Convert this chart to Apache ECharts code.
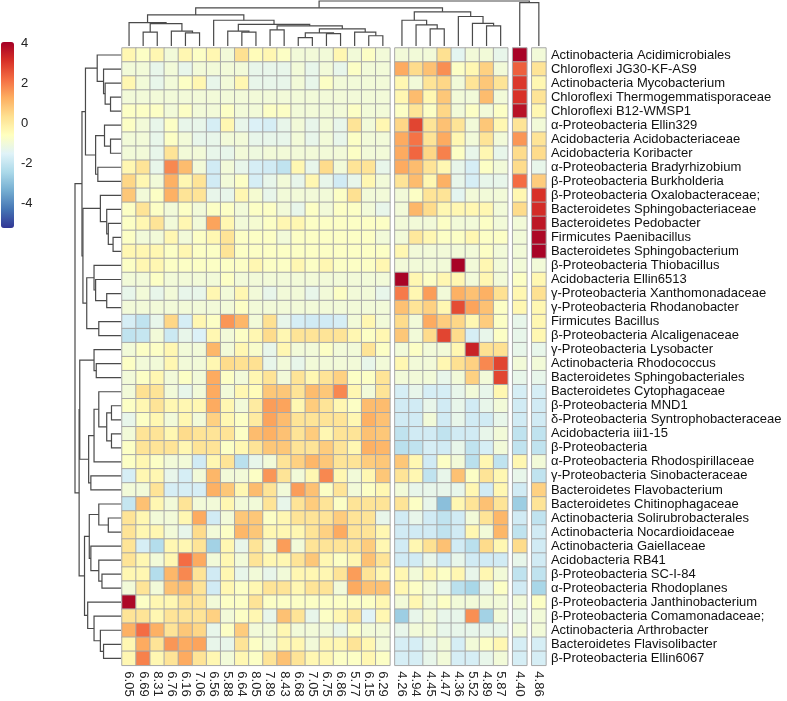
<!DOCTYPE html>
<html>
<head>
<meta charset="utf-8">
<script src="https://cdn.jsdelivr.net/npm/echarts@6/dist/echarts.min.js"></script>
<style>
  html, body { margin: 0; padding: 0; background: #fff; }
  #main { width: 787px; height: 701px; }
</style>
</head>
<body>
<div id="main"></div>
<script>
// taxa (rows, top to bottom)
const rowNames = [
  'Actinobacteria Acidimicrobiales', 'Chloroflexi JG30-KF-AS9', 'Actinobacteria Mycobacterium',
  'Chloroflexi Thermogemmatisporaceae', 'Chloroflexi B12-WMSP1', 'α-Proteobacteria Ellin329',
  'Acidobacteria Acidobacteriaceae', 'Acidobacteria Koribacter', 'α-Proteobacteria Bradyrhizobium',
  'β-Proteobacteria Burkholderia', 'β-Proteobacteria Oxalobacteraceae;', 'Bacteroidetes Sphingobacteriaceae',
  'Bacteroidetes Pedobacter', 'Firmicutes Paenibacillus', 'Bacteroidetes Sphingobacterium',
  'β-Proteobacteria Thiobacillus', 'Acidobacteria Ellin6513', 'γ-Proteobacteria Xanthomonadaceae',
  'γ-Proteobacteria Rhodanobacter', 'Firmicutes Bacillus', 'β-Proteobacteria Alcaligenaceae',
  'γ-Proteobacteria Lysobacter', 'Actinobacteria Rhodococcus', 'Bacteroidetes Sphingobacteriales',
  'Bacteroidetes Cytophagaceae', 'β-Proteobacteria MND1', 'δ-Proteobacteria Syntrophobacteraceae',
  'Acidobacteria iii1-15', 'β-Proteobacteria', 'α-Proteobacteria Rhodospirillaceae',
  'γ-Proteobacteria Sinobacteraceae', 'Bacteroidetes Flavobacterium', 'Bacteroidetes Chitinophagaceae',
  'Actinobacteria Solirubrobacterales', 'Actinobacteria Nocardioidaceae', 'Actinobacteria Gaiellaceae',
  'Acidobacteria RB41', 'β-Proteobacteria SC-I-84', 'α-Proteobacteria Rhodoplanes',
  'β-Proteobacteria Janthinobacterium', 'β-Proteobacteria Comamonadaceae;', 'Actinobacteria Arthrobacter',
  'Bacteroidetes Flavisolibacter', 'β-Proteobacteria Ellin6067'
];

// sample labels (pH), one array per column block
const cols1 = ['6.05','6.69','8.31','6.76','6.16','7.06','6.56','5.88','6.64','8.05','7.89','8.43','6.68','7.05','6.75','6.86','5.77','6.15','6.29'];
const cols2 = ['4.26','4.94','4.45','4.47','4.36','5.52','4.89','5.87'];
const cols3 = ['4.40'];
const cols4 = ['4.86'];

// scaled abundance, block 1 (19 columns)
const block1 = [
  [-0.35,-0.7,-0.35,-1.0,-0.35,-0.7,-0.35,-1.0,0.3,-0.5,-0.35,-0.7,-1.0,-1.0,-1.0,-0.35,-1.0,-0.7,-1.0],
  [-1.0,-1.0,-1.3,-1.0,-1.3,-1.0,-1.0,-1.0,-1.0,-1.3,-1.3,-1.3,-1.0,-1.3,-1.0,-1.3,-0.7,-1.0,-1.0],
  [-0.35,-1.0,-1.3,-1.0,-0.7,-0.35,-1.3,-1.0,-0.35,-1.3,-1.3,-1.3,-1.0,-1.3,-0.7,-1.0,-1.0,-1.0,-1.0],
  [-1.0,-1.0,-1.0,-1.0,-1.0,-1.0,-1.0,-1.0,-1.0,-1.0,-1.0,-1.0,-1.0,-1.0,-1.0,-1.0,-1.0,-1.0,-1.0],
  [-0.7,-0.7,-0.7,-1.0,-0.7,-1.0,-1.0,-0.7,-1.0,-1.0,-0.7,-0.7,-1.0,-1.0,-1.0,-1.0,-0.7,-1.0,-1.0],
  [-0.7,-1.0,-1.3,-0.7,-1.3,-1.3,-1.7,-0.35,-1.3,-1.6,-1.7,-1.3,-1.0,-1.3,-1.0,-1.3,0.2,-1.0,-0.35],
  [-1.0,-1.0,-1.3,-0.7,-1.0,-1.3,-1.3,-1.0,-1.0,-1.3,-1.3,-1.3,-1.0,-1.3,-1.0,-1.3,-0.7,-1.0,-1.0],
  [-1.0,-1.0,-1.3,0.2,-1.0,-1.0,-1.3,-1.3,-1.0,-1.1,-1.0,-1.0,-1.0,-1.0,-1.0,-1.0,-0.7,-1.0,-1.0],
  [-0.35,0.2,-1.3,1.8,1.0,-1.0,-1.8,-1.0,-1.3,-1.7,-1.8,-2.1,-0.35,-1.3,0.4,-1.0,0.2,0.2,-1.3],
  [0.5,-0.35,-1.0,1.2,-0.35,0.2,-1.8,-1.0,-0.7,-1.7,-1.3,-1.0,-1.3,-0.35,-1.3,-1.8,-1.3,-0.35,-1.0],
  [0.8,-1.0,-0.7,1.2,0.2,0.2,-1.3,-1.3,-0.35,-0.9,-1.3,-1.0,-1.0,-1.0,-1.0,-0.7,0.3,-1.0,-1.0],
  [-0.7,0.2,-0.7,-1.0,-0.7,-1.0,-0.7,-0.7,-1.0,-0.7,-0.7,-1.0,-1.3,-0.7,-1.0,-0.7,-0.7,-1.0,-1.3],
  [-0.7,-0.35,0.2,-1.0,-0.35,-1.0,1.4,-0.35,-1.0,-0.9,-0.7,-0.35,-0.35,-0.7,-0.7,-0.7,-0.7,-0.7,-0.7],
  [-0.7,-1.0,-1.0,-0.35,-1.0,-0.7,-0.35,0.2,-0.7,-0.7,-0.7,-1.0,-0.7,-0.7,-0.7,-0.7,-0.7,-0.7,-1.0],
  [-0.35,-0.35,-0.35,-0.7,-0.35,-0.7,-0.7,0.2,-0.7,-0.7,-0.7,-0.7,-0.7,-0.7,-0.7,-0.7,-0.7,-0.7,-0.7],
  [-0.7,-0.35,-0.35,-0.7,-0.7,-0.7,-0.7,-0.7,-0.7,-0.35,-0.7,-0.7,-0.35,-0.7,-0.35,-0.7,-0.7,-0.7,-0.35],
  [-1.0,-1.0,-0.7,-1.0,-1.0,-1.0,-1.0,-0.7,-1.0,-1.0,-1.0,-1.0,-1.0,-1.0,-1.0,-1.0,-1.0,-1.0,-1.0],
  [-1.3,-1.0,-1.3,-1.0,-1.3,-1.3,-0.35,-1.0,-0.35,-1.0,-1.3,-1.0,-1.0,-1.3,-1.0,-0.7,-1.0,-1.0,-1.3],
  [-1.0,-1.0,-1.0,-1.0,-1.0,-1.0,-1.0,-1.0,-0.7,-1.0,-1.0,-1.0,-1.0,-1.0,-1.0,-1.0,-1.0,-1.0,-1.0],
  [-1.7,-2.1,-1.3,0.5,-1.7,-0.35,-0.7,1.6,1.1,-1.0,0.3,-1.3,-1.7,-1.8,-1.8,-1.7,-1.0,-0.35,-1.0],
  [-2.1,-2.0,-1.0,-1.9,-1.3,-1.6,-0.35,-1.0,-0.7,-0.35,0.4,-0.35,0.2,0.2,0.2,0.2,-0.35,-0.7,-0.35],
  [-1.0,-0.7,-0.7,-0.35,-1.0,-1.0,1.1,-1.0,-0.35,-0.8,-1.3,-0.35,-1.0,-1.0,-0.7,-1.0,-1.0,0.2,-0.7],
  [-0.7,-1.0,-1.0,-0.35,-1.0,-1.0,-0.35,0.4,0.3,0.3,-1.3,-1.0,-1.3,-1.0,-1.0,-1.0,-1.0,-1.3,-1.0],
  [-1.0,-0.7,-0.35,-1.0,-0.7,-1.0,1.3,-0.7,-1.0,-0.35,0.2,-1.0,0.2,-0.35,0.2,0.6,-0.7,-0.7,0.2],
  [-1.0,0.3,0.2,-1.0,-1.3,-1.0,1.3,-1.0,-0.35,-0.5,0.8,0.8,0.2,1.0,0.8,1.8,-0.35,-1.0,0.2],
  [-0.7,-0.35,0.2,-0.35,-0.35,-0.35,1.3,-0.35,-1.0,0.0,1.5,1.4,-0.35,0.7,0.2,-0.35,-0.7,1.0,1.0],
  [-1.3,-0.7,-0.35,-1.0,-0.35,-1.0,0.6,-0.35,-0.7,0.0,1.4,1.0,0.2,0.2,0.2,0.2,-0.35,1.2,0.9],
  [-1.0,0.2,0.2,-0.35,0.4,0.2,0.2,0.2,-0.7,1.0,1.2,0.9,0.2,0.7,-0.35,0.2,0.2,0.9,0.8],
  [-0.7,0.2,0.2,0.2,-0.35,0.2,0.2,-0.7,-0.35,0.2,0.8,0.8,0.2,0.2,0.7,0.2,-0.35,1.2,1.1],
  [-0.7,-0.35,-0.7,-1.0,-1.0,-1.8,-0.35,0.2,-2.2,-1.3,-1.0,0.2,0.6,1.1,0.8,0.2,0.2,0.7,0.8],
  [-1.7,-0.35,-0.35,-1.3,-1.7,-1.0,1.1,-1.0,-1.0,-0.7,1.6,0.2,-1.0,-0.35,1.8,-0.35,-1.0,-0.35,0.8],
  [-1.0,-1.0,0.2,-1.7,-1.7,-1.7,1.2,0.8,-0.35,1.0,0.2,-1.0,1.5,0.9,-0.7,0.2,-1.0,-0.7,-0.35],
  [-2.0,0.9,-0.35,-1.0,0.2,-1.0,-1.0,-0.35,-1.0,-1.0,0.2,-1.3,0.2,0.7,0.2,-0.7,0.2,0.2,0.2],
  [0.2,-0.35,-1.0,-1.0,-0.35,1.3,-1.8,-1.0,0.8,0.8,-0.7,-0.35,0.2,0.2,0.2,0.7,0.2,0.2,-1.3],
  [0.2,-0.35,-0.35,-1.0,-1.3,0.4,-1.0,-0.7,1.1,0.8,-0.35,-0.35,-0.35,0.2,0.6,1.3,0.2,0.2,-0.35],
  [0.2,-1.7,-2.3,-0.35,-0.35,0.2,-2.6,-0.35,-1.3,0.2,-1.0,1.5,-1.0,0.2,0.2,0.2,0.2,0.7,-0.35],
  [0.2,-0.35,-1.0,-0.35,2.2,1.3,-1.0,-0.35,-1.0,0.2,-0.35,-0.35,0.2,0.8,-0.35,-0.7,-0.35,0.9,0.2],
  [-0.35,-0.35,-2.3,1.1,1.8,0.2,-1.8,-0.35,-1.3,-1.0,-1.3,-1.0,-0.35,-0.35,-0.35,0.2,1.5,0.2,-0.35],
  [-1.0,0.2,-1.0,0.9,1.0,0.2,-1.8,-0.35,-0.7,-0.35,0.2,0.2,-0.35,0.2,0.2,-1.0,1.3,0.9,0.9],
  [3.9,-0.7,-0.35,-0.35,0.2,0.2,-1.0,-0.7,-0.7,0.2,-0.7,-0.7,-0.7,-0.7,-0.7,-0.7,-0.7,-0.7,-0.35],
  [0.2,0.2,-0.35,0.2,0.2,0.2,0.6,-1.0,-0.7,-0.35,-1.3,0.9,0.2,-1.3,-0.7,-0.35,0.2,-1.5,-0.35],
  [1.2,2.2,1.2,0.2,0.8,0.5,-1.3,-0.7,0.7,-1.0,-1.0,-0.35,-1.0,-1.0,-1.0,-1.3,-0.7,-1.0,-1.0],
  [-0.35,1.3,0.2,1.6,1.3,1.4,-1.3,-1.3,0.2,-0.7,-1.0,-0.35,-0.35,-1.0,-0.35,-0.35,0.2,-0.35,-1.0],
  [-0.35,1.9,-0.35,0.2,1.3,0.2,-0.35,-1.0,-0.35,-0.7,0.2,0.9,0.2,-0.35,-0.35,-0.7,-0.7,-0.35,-0.7]
];

// block 2 (8 columns)
const block2 = [
  [-1.0,-1.0,-1.0,0.3,-1.4,-1.0,-1.0,-1.3],
  [1.3,0.4,0.9,1.7,-0.7,-0.35,0.6,-1.0],
  [-0.35,-1.0,0.2,0.5,-1.0,0.2,0.8,0.2],
  [-0.35,1.0,-0.35,0.8,-1.0,-1.0,1.0,-1.0],
  [-0.7,0.2,-0.7,0.5,-1.0,-0.7,-1.0,-0.7],
  [0.5,2.8,0.2,0.9,0.2,-1.0,0.8,-0.35],
  [1.3,2.1,0.2,1.3,-0.35,-1.0,0.2,-1.0],
  [1.3,2.3,0.5,1.9,-0.7,-1.3,-0.35,-1.3],
  [1.3,1.0,0.2,-0.35,-1.3,-1.7,-0.7,-1.0],
  [0.2,1.0,-0.35,1.2,-1.3,-1.7,-1.3,-1.3],
  [-1.0,-0.7,0.2,0.2,-1.4,-1.0,-1.0,-1.0],
  [-1.0,1.1,0.4,-0.35,-0.35,-0.35,-0.35,-1.0],
  [-1.0,-1.0,-1.0,-0.7,-1.0,-1.0,-0.7,-1.0],
  [-1.0,0.1,-0.35,-0.7,-0.7,-0.35,-0.7,-0.7],
  [-0.35,-1.0,-1.0,-1.0,-1.0,-1.0,-0.7,-1.0],
  [-1.0,-1.0,-1.0,-1.0,4.0,-1.0,-0.35,-1.0],
  [4.0,-0.35,-0.7,-0.35,-0.35,-1.0,-0.35,-1.0],
  [2.0,-0.35,1.5,-1.0,1.2,0.9,1.2,0.3],
  [0.9,0.2,0.6,-0.35,2.7,1.4,0.9,-0.7],
  [0.4,-1.0,1.3,0.7,0.5,-0.35,0.7,-0.7],
  [0.8,-1.0,0.4,2.8,0.4,-1.7,-1.3,-0.7],
  [-1.0,-0.7,-1.0,-1.0,-0.35,3.4,0.3,0.3],
  [-0.35,-1.0,-1.0,-0.35,0.3,0.6,1.8,2.8],
  [-1.0,-1.0,-1.0,-1.3,-1.0,0.6,-1.0,2.8],
  [-1.7,-1.3,-1.7,-1.7,-1.3,-1.0,-1.3,-0.35],
  [-1.8,-1.8,-1.3,-1.8,-1.3,-1.8,-1.3,-1.0],
  [-1.8,-1.8,-1.0,-1.8,-1.3,-1.8,-1.8,-1.3],
  [-2.1,-1.8,-1.8,-2.1,-1.8,-1.8,-1.3,-1.0],
  [-2.2,-2.1,-1.7,-1.8,-1.3,-2.1,-1.7,-1.0],
  [0.8,-0.35,-1.8,-0.7,-1.0,-2.2,-0.35,-2.1],
  [0.2,-0.35,-2.1,-1.3,0.9,-0.7,0.2,-0.35],
  [-1.0,-1.3,-1.3,-1.3,-1.3,-0.35,-1.8,-0.35],
  [0.2,-0.7,-1.3,-3.0,-0.35,0.2,0.9,0.2],
  [-1.8,-1.3,-1.8,-2.1,-1.8,-1.0,0.2,1.1],
  [-1.8,-1.8,-1.8,-2.1,-1.8,-0.35,-1.0,1.1],
  [-1.8,-0.35,0.3,0.9,-1.8,-2.2,0.4,-0.35],
  [-1.8,-1.8,-1.3,-1.8,-1.3,-1.8,-1.8,-1.8],
  [-0.35,-1.0,-0.35,-0.7,-0.35,-1.3,-0.35,-1.0],
  [-0.35,-0.7,-1.0,-1.3,-2.2,-2.5,-1.3,-0.7],
  [-1.0,-0.35,-1.0,-0.7,-1.0,-1.0,-1.0,-1.0],
  [-2.7,-1.3,-1.0,-1.3,-1.3,1.7,-2.6,-1.0],
  [-1.3,-1.0,-1.0,-1.3,-1.3,-1.3,-1.3,-1.3],
  [-1.7,-1.7,-1.3,-1.0,-1.7,-1.0,-0.7,-0.35],
  [-1.7,-1.7,-1.3,-1.0,-1.7,-1.7,-1.3,-1.0]
];

// single-column blocks
const col440 = [4.0,2.4,3.0,3.1,3.7,0.2,1.6,0.4,0.4,2.2,-0.35,0.4,-1.0,-1.0,-1.0,-1.0,-0.7,-0.35,-0.35,-1.3,-1.3,-1.3,
  -1.0,-1.3,-1.7,-1.8,-1.8,-2.1,-2.1,-0.35,-1.3,-1.8,-2.7,-1.8,-2.1,0.4,-1.3,-2.1,-1.8,-1.0,-1.3,-1.0,-1.7,-1.7];
const col486 = [-1.0,0.2,-0.35,0.2,-0.35,-1.0,0.2,0.4,-1.3,0.7,3.1,3.2,3.6,3.9,4.0,-1.0,-0.35,0.3,-0.35,-0.35,-0.35,-1.3,
  -1.0,-1.3,-1.7,-1.8,-1.8,-2.1,-2.1,-1.0,-2.1,0.6,0.2,-2.1,-1.8,-1.8,-1.8,-2.1,-2.5,-0.7,-1.0,-1.0,-1.7,-1.7];

// dendrograms: [left, right, height], leaves are column / row indices
const colTree = [
  [
    [
      [0, [[1, 2, 45], [3, [4, 5, 42], 48], 72], 75],
      [6, [[7, [8, 9, 45], 48], [[10, 11, 52], [[[12, 13, 27], [14, 15, 40], 42], [16, [17, 18, 33], 45], 55], 65], 70], 83],
      100
    ],
    [[19, [20, [21, 22, 55], 68], 83], [23, [24, [25, 26, 65], 73], 95], 110],
    123
  ],
  [27, 28, 140],
  145
];
const rowTree = [
  [
    [[0, [1, [2, [3, 4, 33], 50], 55], 75], [[5, [6, 7, 33], 52], [8, 9, 73], 80], 112],
    [[10, [11, [12, [13, 14, 25], 40], 45], 65], [[15, [16, [17, 18, 45], 80], 85], [19, 20, 70], 108], 120],
    123
  ],
  [
    [[21, [22, 23, 78], 85], [[[24, [[25, 26, 30], [27, 28, 30], 45], 70], 29, 85], [30, 31, 95], 102], 130],
    [[[32, [33, 34, 40], 70], [35, [36, [37, 38, 60], 70], 95], 100], [39, [40, [41, [42, 43, 55], 65], 85], 105], 115],
    132
  ],
  145
];

const legendTicks = [-4, -2, 0, 2, 4];
const colorMin = -5.25, colorMax = 4.05;
const palette = ['#313695','#4575b4','#74add1','#abd9e9','#e0f3f8','#ffffbf','#fee090','#fdae61','#f46d43','#d73027','#a50026'];

// layout
const cellW = 14.1, cellH = 14.03, gapW = 5;
const heatLeft = 122, heatTop = 48;
const heatH = rowNames.length * cellH;
const fontFam = '"Liberation Sans", Arial, sans-serif';

const colBlocks = [cols1, cols2, cols3, cols4];
const valBlocks = [block1, block2, col440.map(v => [v]), col486.map(v => [v])];

const grids = [], xAxes = [], yAxes = [], series = [];
const leafX = [];
let start = 0;
colBlocks.forEach((cols, b) => {
  const left = heatLeft + start * cellW + b * gapW;
  cols.forEach((c, i) => leafX.push(start * cellW + b * gapW + (i + 0.5) * cellW));
  grids.push({ left: left, top: heatTop, width: cols.length * cellW, height: heatH });
  xAxes.push({
    type: 'category', gridIndex: b, data: cols, position: 'bottom',
    axisLine: { show: false }, axisTick: { show: false },
    axisLabel: { interval: 0, rotate: -90, margin: 6, fontSize: 13, color: '#222', fontFamily: fontFam }
  });
  const last = b === colBlocks.length - 1;
  yAxes.push({
    type: 'category', gridIndex: b, data: rowNames, inverse: true, position: 'right',
    axisLine: { show: false }, axisTick: { show: false },
    axisLabel: { show: last, interval: 0, margin: 5, fontSize: 13, color: '#111', fontFamily: fontFam }
  });
  const data = [];
  valBlocks[b].forEach((row, r) => row.forEach((v, c) => data.push([c, r, v])));
  series.push({
    type: 'heatmap', xAxisIndex: b, yAxisIndex: b, data: data,
    itemStyle: { borderColor: '#a8a8a8', borderWidth: 1 },
    emphasis: { disabled: true }
  });
  start += cols.length;
});
const totalW = start * cellW + (colBlocks.length - 1) * gapW;

// dendrogram segments from the trees
function walk(node, pos, segs) {
  if (typeof node === 'number') return { p: pos(node), h: 0 };
  const a = walk(node[0], pos, segs), b = walk(node[1], pos, segs);
  segs.push([a.p, a.h, b.p, b.h, node[2]]);
  return { p: (a.p + b.p) / 2, h: node[2] };
}
const colSegs = [], rowSegs = [];
walk(colTree, i => leafX[i], colSegs);
walk(rowTree, i => i + 0.5, rowSegs);

function bracket(horizontal) {
  return function (params, api) {
    const p1 = api.value(0), h1 = api.value(1), p2 = api.value(2), h2 = api.value(3), H = api.value(4);
    let pts = [[p1, h1], [p1, H], [p2, H], [p2, h2]];
    if (horizontal) pts = pts.map(d => [d[1], d[0]]);
    return {
      type: 'polyline',
      shape: { points: pts.map(d => api.coord(d)) },
      style: { stroke: '#4a4a4a', lineWidth: 1.2, fill: null }
    };
  };
}

// column dendrogram (top)
grids.push({ left: heatLeft, top: 1, width: totalW, height: 45 });
xAxes.push({ type: 'value', gridIndex: 4, min: 0, max: totalW, show: false });
yAxes.push({ type: 'value', gridIndex: 4, min: 0, max: 145, show: false });
series.push({ type: 'custom', xAxisIndex: 4, yAxisIndex: 4, data: colSegs, renderItem: bracket(false), silent: true });

// row dendrogram (left)
grids.push({ left: 75, top: heatTop, width: 46, height: heatH });
xAxes.push({ type: 'value', gridIndex: 5, min: 0, max: 145, inverse: true, show: false });
yAxes.push({ type: 'value', gridIndex: 5, min: 0, max: rowNames.length, inverse: true, show: false });
series.push({ type: 'custom', xAxisIndex: 5, yAxisIndex: 5, data: rowSegs, renderItem: bracket(true), silent: true });

// colour key tick labels
grids.push({ left: 1, top: 42, width: 13, height: 186 });
xAxes.push({ type: 'value', gridIndex: 6, show: false });
yAxes.push({
  type: 'value', gridIndex: 6, min: colorMin, max: colorMax, position: 'right',
  splitLine: { show: false }, axisLine: { show: false }, axisTick: { show: false },
  axisLabel: { customValues: legendTicks, margin: 7, fontSize: 13, color: '#222', fontFamily: fontFam }
});

const chart = echarts.init(document.getElementById('main'), null, { renderer: 'canvas' });
var option = {
  backgroundColor: '#fff',
  animation: false,
  grid: grids,
  xAxis: xAxes,
  yAxis: yAxes,
  visualMap: {
    type: 'continuous', min: colorMin, max: colorMax, seriesIndex: [0, 1, 2, 3],
    left: 1, top: 42, itemWidth: 13, itemHeight: 186, padding: 0,
    calculable: false, text: null, showLabel: false, realtime: false,
    inRange: { color: palette }
  },
  series: series
};
chart.setOption(option);
</script>
</body>
</html>
